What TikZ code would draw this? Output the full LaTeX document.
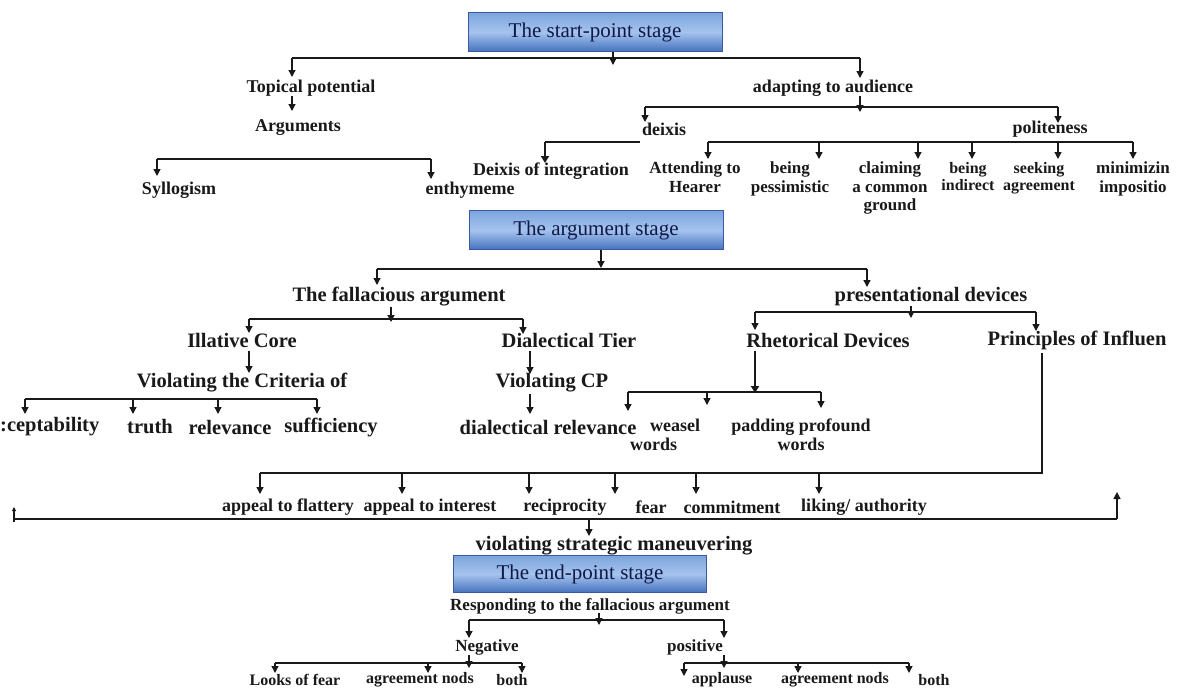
\documentclass[tikz,border=0pt]{standalone}
\usepackage{fontspec}
\setmainfont{Liberation Serif}
\usetikzlibrary{arrows.meta}
\definecolor{boxtop}{RGB}{125,165,220}
\definecolor{boxmid}{RGB}{165,195,238}
\definecolor{boxbot}{RGB}{70,115,190}
\definecolor{boxline}{RGB}{55,90,160}
\definecolor{boxtext}{RGB}{15,25,70}
\definecolor{ink}{RGB}{25,25,25}
\tikzset{
  sm/.style={font=\fontsize{18}{18.5}\selectfont\bfseries, text=ink, inner sep=0pt, align=center},
  xs/.style={font=\fontsize{17}{18.5}\selectfont\bfseries, text=ink, inner sep=0pt, align=center},
  tiny/.style={font=\fontsize{16}{17}\selectfont\bfseries, text=ink, inner sep=0pt, align=center},
  big/.style={font=\fontsize{20.5}{22}\selectfont\bfseries, text=ink, inner sep=0pt, align=center},
  stagebox/.style={draw=boxline, line width=1pt, top color=boxtop, bottom color=boxbot, middle color=boxmid,
    minimum width=254pt, minimum height=39pt, inner sep=0pt, font=\fontsize{21}{22}\selectfont, text=boxtext},
  ln/.style={line width=1.3pt, draw=ink},
  arr/.style={line width=1.3pt, draw=ink, -{Triangle[length=7pt,width=7pt]}},
  tarr/.style={line width=2pt, draw=ink, -{Triangle[length=7pt,width=8pt]}},
}
\begin{document}
\begin{tikzpicture}[x=1pt,y=-1pt]
\useasboundingbox (0,0) rectangle (1184,691);
\fill[white] (0,0) rectangle (1184,691);

% ---------- start-point stage ----------
\node[stagebox] (sp) at (595,32) {The start-point stage};
\node[sm] (tp) at (311,88) {Topical potential};
\node[sm] (args) at (298,128) {Arguments};
\node[sm] (syl) at (179,190) {Syllogism};
\node[sm] (enth) at (470,190) {enthymeme};
\node[sm] (ada) at (833,88) {adapting to audience};
\node[sm] (dei) at (664,129) {deixis};
\node[sm] (pol) at (1050,129) {politeness};
\node[sm] (doi) at (551,171) {Deixis of integration};
\node[xs,anchor=north] (att) at (695,162) {Attending to\\Hearer};
\node[xs,anchor=north] (pes) at (790,162) {being\\pessimistic};
\node[xs,anchor=north] (cla) at (890,162) {claiming\\a common\\ground};
\node[tiny,anchor=north] (ind) at (968,162) {being\\indirect};
\node[tiny,anchor=north] (see) at (1039,162) {seeking\\agreement};
\node[xs,anchor=north] (min) at (1133,162) {minimizin\\impositio};

\coordinate (b1L) at (292,58); \coordinate (b1R) at (860,58);
\draw[arr] (613,52) -- (613,65);
\draw[ln] (b1L) -- (b1R);
\draw[arr] (b1L) -- (292,77);
\draw[arr] (b1R) -- (860,78);
\draw[arr] (292,96) -- (292,111);
\coordinate (b2L) at (157,159); \coordinate (b2R) at (431,159);
\draw[ln] (b2L) -- (b2R);
\draw[arr] (b2L) -- (157,176);
\draw[arr] (b2R) -- (431,179);
\coordinate (b3L) at (645,107); \coordinate (b3R) at (1058,107);
\draw[arr] (860,96) -- (860,112);
\draw[ln] (b3L) -- (b3R);
\draw[arr] (b3L) -- (645,122);
\draw[arr] (b3R) -- (1058,123);
\draw[ln] (640,142) -- (545,142);
\draw[tarr] (545,142) -- (545,163);
\coordinate (b4L) at (708,142); \coordinate (b4R) at (1133,142);
\draw[ln] (b4L) -- (b4R);
\foreach \x in {708,819,918,972,1058,1133} \draw[arr] (\x,142) -- (\x,159);

% ---------- argument stage ----------
\node[stagebox] (as) at (596,230) {The argument stage};
\node[big] (fal) at (399,297) {The fallacious argument};
\node[big] (pres) at (931,297) {presentational devices};
\node[big] (ill) at (242,340) {Illative Core};
\node[big] (dia) at (569,340) {Dialectical Tier};
\node[big] (vcr) at (242,383) {Violating the Criteria of};
\node[big] (vcp) at (552,383) {Violating CP};
\node[big,anchor=west] (acc) at (0,427) {:ceptability};
\node[big] (tru) at (150,427) {truth};
\node[big] (rel) at (230,427) {relevance};
\node[big] (suf) at (331,427) {sufficiency};
\node[big] (drel) at (548,427) {dialectical relevance};
\node[sm,anchor=north west,align=left] (wea) at (630,419) {\hspace*{20pt}weasel\\words};
\node[sm,anchor=north] (pad) at (801,419) {padding profound\\words};
\node[big] (rhe) at (828,340) {Rhetorical Devices};
\node[big] (pri) at (1077,340) {Principles of Influen};

\draw[arr] (601,250) -- (601,268);
\coordinate (b5L) at (377,269); \coordinate (b5R) at (867,269);
\draw[ln] (b5L) -- (b5R);
\draw[arr] (b5L) -- (377,285);
\draw[arr] (b5R) -- (867,287);
\draw[arr] (391,307) -- (391,322);
\coordinate (b6L) at (249,319); \coordinate (b6R) at (523,319);
\draw[ln] (b6L) -- (b6R);
\draw[arr] (b6L) -- (249,333);
\draw[arr] (b6R) -- (523,334);
\draw[arr] (249,351) -- (249,373);
\coordinate (b7L) at (25,399); \coordinate (b7R) at (317,399);
\draw[ln] (b7L) -- (b7R);
\foreach \x in {25,133,218,317} \draw[arr] (\x,399) -- (\x,414);
\draw[arr] (530,351) -- (530,374);
\draw[arr] (530,394) -- (530,414);
\draw[arr] (911,306) -- (911,318);
\coordinate (b8L) at (755,312); \coordinate (b8R) at (1036,312);
\draw[ln] (b8L) -- (b8R);
\draw[arr] (b8L) -- (755,330);
\draw[arr] (b8R) -- (1036,331);
\draw[tarr] (755,351) -- (755,393);
\coordinate (b9L) at (628,392); \coordinate (b9R) at (821,392);
\draw[ln] (b9L) -- (b9R);
\draw[arr] (b9L) -- (628,411);
\draw[arr] (707,392) -- (707,405);
\draw[arr] (b9R) -- (821,408);

% ---------- principles of influence ----------
\node[sm] (fla) at (288,507) {appeal to flattery};
\node[sm] (int) at (430,507) {appeal to interest};
\node[sm] (rec) at (565,507) {reciprocity};
\node[sm] (fear) at (651,507) {fear};
\node[sm] (com) at (732,507) {commitment};
\node[sm] (lik) at (864,507) {liking/ authority};
\node[big] (vsm) at (614,546) {violating strategic maneuvering};

\coordinate (pc) at (1042,473);
\draw[ln] (1042,353) -- (pc) -- (260,473);
\foreach \x in {260,402,529,615,696,819} \draw[arr] (\x,473) -- (\x,494);
\coordinate (lL) at (14,519); \coordinate (lR) at (1117,519);
\draw[ln] (lL) -- (lR);
\draw[line width=1.3pt, draw=ink, -{Triangle[length=4pt,width=4pt]}] (14,522) -- (14,507);
\draw[arr] (lR) -- (1117,492);
\draw[arr] (589,519) -- (589,536);

% ---------- end-point stage ----------
\node[stagebox, minimum width=253pt, minimum height=37pt] (ep) at (580,574) {The end-point stage};
\node[xs] (resp) at (590,606) {Responding to the fallacious argument};
\node[xs] (neg) at (487,647) {Negative};
\node[xs] (pos) at (695,647) {positive};
\node[tiny] (lof) at (295,680) {Looks of fear};
\node[tiny] (an1) at (420,680) {agreement nods};
\node[tiny] (bo1) at (512,680) {both};
\node[tiny] (app) at (722,680) {applause};
\node[tiny] (an2) at (835,680) {agreement nods};
\node[tiny] (bo2) at (934,680) {both};

\draw[arr] (599,613) -- (599,625);
\coordinate (c1L) at (469,620); \coordinate (c1R) at (724,620);
\draw[ln] (c1L) -- (c1R);
\draw[arr] (c1L) -- (469,638);
\draw[arr] (c1R) -- (724,638);
\draw[arr] (469,655) -- (469,668);
\coordinate (c2L) at (275,663); \coordinate (c2R) at (522,663);
\draw[ln] (c2L) -- (c2R);
\foreach \x in {275,428,522} \draw[arr] (\x,663) -- (\x,673);
\draw[arr] (724,655) -- (724,668);
\coordinate (c3L) at (684,663); \coordinate (c3R) at (909,663);
\draw[ln] (c3L) -- (c3R);
\draw[arr] (c3L) -- (684,676);
\draw[arr] (798,663) -- (798,673);
\draw[arr] (c3R) -- (909,673);
\end{tikzpicture}
\end{document}
